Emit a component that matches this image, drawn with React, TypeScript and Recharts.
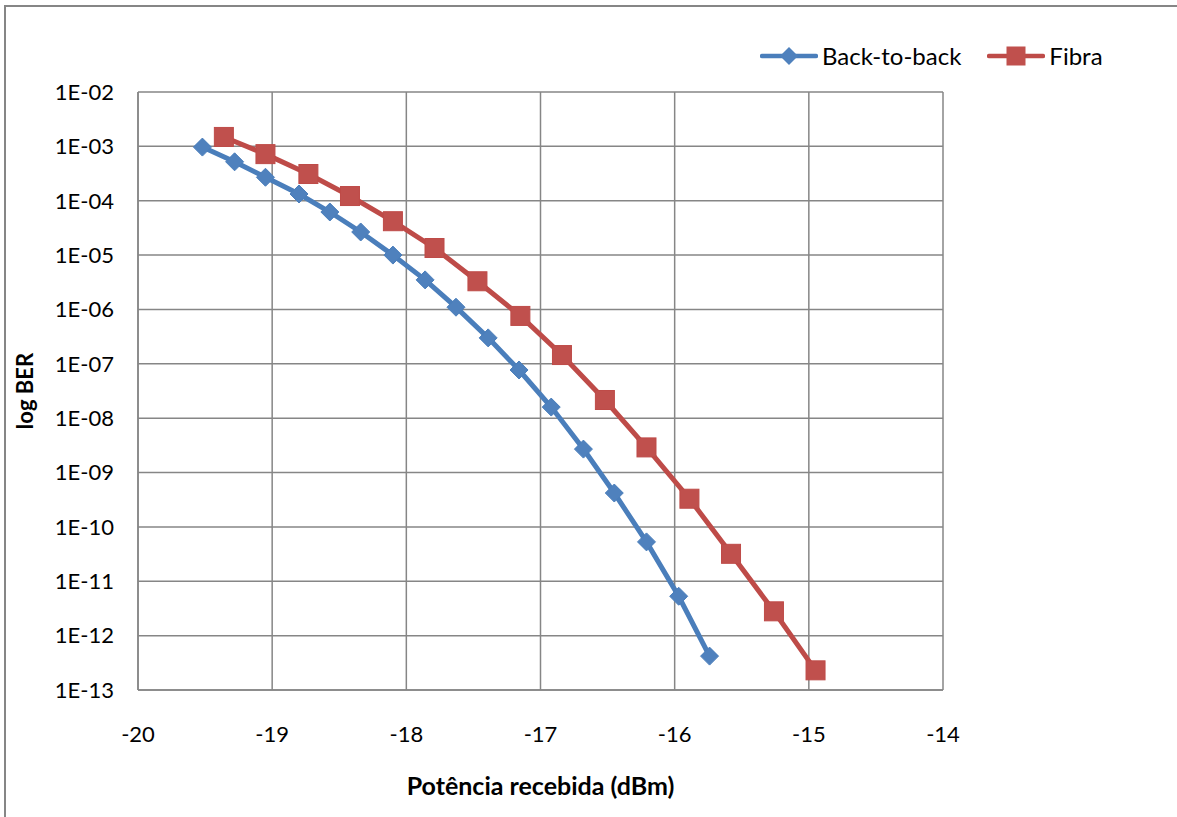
import React from 'react';
import {
  LineChart,
  Line,
  XAxis,
  YAxis,
  CartesianGrid,
  Label,
} from 'recharts';

// x ticks (dBm) and y ticks (BER decades)
const xTicks = [-20, -19, -18, -17, -16, -15, -14];
const yTicks = [1e-2, 1e-3, 1e-4, 1e-5, 1e-6, 1e-7, 1e-8, 1e-9, 1e-10, 1e-11, 1e-12, 1e-13];

const b2bPower = [
  -19.52, -19.28, -19.05, -18.8, -18.57, -18.34, -18.1, -17.86, -17.63,
  -17.39, -17.16, -16.92, -16.68, -16.45, -16.21, -15.97, -15.74,
];
const b2bBer = [
  9.7e-4, 5.2e-4, 2.7e-4, 1.33e-4, 6.2e-5, 2.66e-5, 1.0e-5, 3.5e-6, 1.1e-6,
  3.0e-7, 7.7e-8, 1.6e-8, 2.7e-9, 4.2e-10, 5.3e-11, 5.3e-12, 4.2e-13,
];

const fibraPower = [
  -19.36, -19.05, -18.73, -18.42, -18.1, -17.79, -17.47, -17.15, -16.84,
  -16.52, -16.21, -15.89, -15.58, -15.26, -14.95,
];
const fibraBer = [
  1.49e-3, 7.2e-4, 3.1e-4, 1.22e-4, 4.2e-5, 1.35e-5, 3.3e-6, 7.6e-7, 1.45e-7,
  2.16e-8, 2.9e-9, 3.3e-10, 3.2e-11, 2.8e-12, 2.3e-13,
];

const b2bData = b2bPower.map((power, i) => ({ power, ber: b2bBer[i] }));
const fibraData = fibraPower.map((power, i) => ({ power, ber: fibraBer[i] }));

const BLUE_LINE = '#4A7EBB';
const BLUE_MARK = '#4F81BD';
const RED_LINE = '#BE4B48';
const RED_MARK = '#C0504D';
const GRID = '#868686';
const FONT = 'Lato, "Open Sans", sans-serif';

function formatBer(v: number) {
  const exp = Math.round(Math.log10(v));
  const abs = String(Math.abs(exp)).padStart(2, '0');
  return `1E${exp < 0 ? '-' : '+'}${abs}`;
}

// eslint-disable-next-line @typescript-eslint/no-explicit-any
function DiamondDot({ cx, cy, index }: any) {
  if (cx == null || cy == null) return null;
  const r = 9;
  return (
    <polygon
      key={`d-${index}`}
      points={`${cx},${cy - r} ${cx + r},${cy} ${cx},${cy + r} ${cx - r},${cy}`}
      fill={BLUE_MARK}
      stroke={BLUE_LINE}
      strokeWidth={1}
    />
  );
}

// eslint-disable-next-line @typescript-eslint/no-explicit-any
function SquareDot({ cx, cy, index }: any) {
  if (cx == null || cy == null) return null;
  const h = 9.5;
  return (
    <rect
      key={`s-${index}`}
      x={cx - h}
      y={cy - h}
      width={h * 2}
      height={h * 2}
      fill={RED_MARK}
      stroke={RED_LINE}
      strokeWidth={1}
    />
  );
}

function LegendItem({ name, color, marker }: { name: string; color: string; marker: 'diamond' | 'square' }) {
  return (
    <div style={{ display: 'flex', alignItems: 'center', marginRight: 26 }}>
      <svg width={58} height={20} style={{ marginRight: 4 }}>
        <line x1={2} y1={10} x2={56} y2={10} stroke={color} strokeWidth={4.5} strokeLinecap="round" />
        {marker === 'diamond' ? (
          <polygon points="29,1 38,10 29,19 20,10" fill={BLUE_MARK} />
        ) : (
          <rect x={19.5} y={0.5} width={19} height={19} fill={RED_MARK} />
        )}
      </svg>
      <span style={{ fontSize: 24, color: '#000' }}>{name}</span>
    </div>
  );
}

export default function App() {
  return (
    <div
      style={{
        position: 'fixed',
        left: 0,
        top: 0,
        width: 1177,
        height: 817,
        overflow: 'hidden',
        background: '#fff',
        fontFamily: FONT,
      }}
    >
      {/* chart frame, cropped on the right and bottom */}
      <div
        style={{
          position: 'absolute',
          left: 4,
          top: 5,
          width: 1300,
          height: 900,
          borderLeft: `2px solid ${GRID}`,
          borderTop: `2px solid ${GRID}`,
        }}
      />
      <LineChart
        width={1177}
        height={817}
        margin={{ top: 92, right: 234, left: 0, bottom: 0 }}
        style={{ position: 'absolute', left: 0, top: 0 }}
      >
        <CartesianGrid stroke={GRID} strokeWidth={1.5} />
        <XAxis
          dataKey="power"
          type="number"
          domain={[-20, -14]}
          ticks={xTicks}
          allowDataOverflow
          height={127}
          tickSize={0}
          tickMargin={36}
          axisLine={{ stroke: GRID, strokeWidth: 1.5 }}
          tick={{ fill: '#000', fontSize: 22, fontFamily: FONT }}
        >
          <Label
            content={({ viewBox }: any) => (
              <text
                x={viewBox.x + viewBox.width / 2}
                y={viewBox.y + 105}
                textAnchor="middle"
                fontSize={25}
                fontWeight={700}
                fontFamily={FONT}
                fill="#000"
              >
                Potência recebida (dBm)
              </text>
            )}
          />
        </XAxis>
        <YAxis
          dataKey="ber"
          type="number"
          scale="log"
          domain={[1e-13, 1e-2]}
          ticks={yTicks}
          allowDataOverflow
          width={138}
          tickSize={0}
          tickMargin={24}
          tickFormatter={formatBer}
          axisLine={{ stroke: GRID, strokeWidth: 1.5 }}
          tick={{ fill: '#000', fontSize: 22, fontFamily: FONT }}
        >
          <Label
            content={({ viewBox }: any) => {
              const x = 33;
              const y = viewBox.y + viewBox.height / 2;
              return (
                <text
                  x={x}
                  y={y}
                  transform={`rotate(-90 ${x} ${y})`}
                  textAnchor="middle"
                  fontSize={22}
                  fontWeight={700}
                  fontFamily={FONT}
                  fill="#000"
                >
                  log BER
                </text>
              );
            }}
          />
        </YAxis>
        <Line
          data={b2bData}
          dataKey="ber"
          name="Back-to-back"
          stroke={BLUE_LINE}
          strokeWidth={5}
          dot={DiamondDot}
          activeDot={false}
          isAnimationActive={false}
        />
        <Line
          data={fibraData}
          dataKey="ber"
          name="Fibra"
          stroke={RED_LINE}
          strokeWidth={5}
          dot={SquareDot}
          activeDot={false}
          isAnimationActive={false}
        />
      </LineChart>
      <div style={{ position: 'absolute', left: 760, top: 41, display: 'flex' }}>
        <LegendItem name="Back-to-back" color={BLUE_LINE} marker="diamond" />
        <LegendItem name="Fibra" color={RED_LINE} marker="square" />
      </div>
    </div>
  );
}
